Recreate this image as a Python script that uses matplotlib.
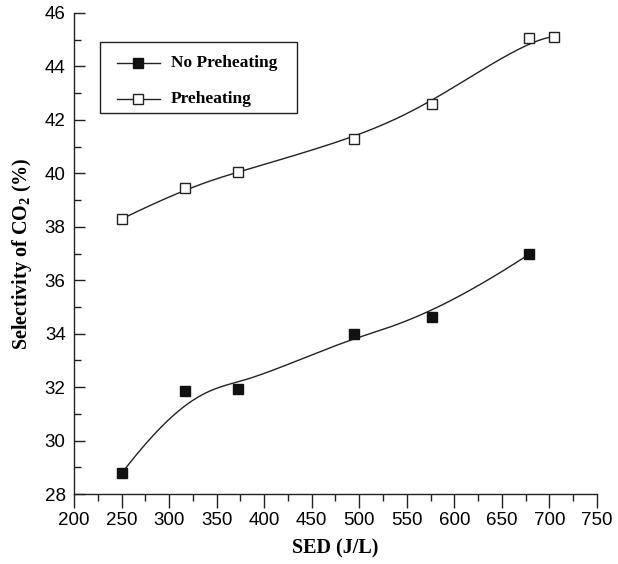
import numpy as np
import matplotlib
matplotlib.use('Agg')
import matplotlib.pyplot as plt
from matplotlib.ticker import MultipleLocator
from matplotlib.patches import Rectangle

# data
sed_no = [250, 317, 372, 494, 577, 679]
co2_no = [28.77, 31.87, 31.94, 33.98, 34.62, 36.98]
sed_pre = [250, 317, 372, 494, 577, 679, 705]
co2_pre = [38.29, 39.45, 40.05, 41.30, 42.60, 45.05, 45.11]
labels = ['No Preheating', 'Preheating']

plt.rcParams['font.family'] = ['Liberation Sans', 'DejaVu Sans']
plt.rcParams['mathtext.fontset'] = 'custom'
plt.rcParams['mathtext.rm'] = 'Liberation Serif:bold'
plt.rcParams['mathtext.bf'] = 'Liberation Serif:bold'


def bspline(xs, ys, num=300, k=3):
    # clamped B-spline with the points as control points (curve only hits the ends)
    P = np.column_stack([xs, ys]).astype(float)
    n = len(P)
    inner = np.linspace(0, 1, n - k + 1)[1:-1]
    t = np.concatenate([np.zeros(k + 1), inner, np.ones(k + 1)])
    u = np.linspace(0, 1, num)
    u[-1] = 1 - 1e-10
    N = np.zeros((num, len(t) - 1))
    for i in range(len(t) - 1):
        N[:, i] = (u >= t[i]) & (u < t[i + 1])
    for d in range(1, k + 1):
        Nn = np.zeros((num, len(t) - 1 - d))
        for i in range(len(t) - 1 - d):
            a = 0
            b = 0
            if t[i + d] > t[i]:
                a = (u - t[i]) / (t[i + d] - t[i]) * N[:, i]
            if t[i + d + 1] > t[i + 1]:
                b = (t[i + d + 1] - u) / (t[i + d + 1] - t[i + 1]) * N[:, i + 1]
            Nn[:, i] = a + b
        N = Nn
    C = N @ P
    return C[:, 0], C[:, 1]


fig = plt.figure(figsize=(6.18, 5.64), dpi=100)
ax = fig.add_axes([0.1197, 0.124, 0.8463, 0.853])

cx, cy = bspline(sed_no, co2_no)
ax.plot(cx, cy, color='#222222', lw=1.0, zorder=1)
cx, cy = bspline(sed_pre, co2_pre)
ax.plot(cx, cy, color='#222222', lw=1.0, zorder=1)

sty_no = dict(marker='s', ms=6.5, mfc='#111111', mec='#111111')
sty_pre = dict(marker='s', ms=6.5, mfc='white', mec='#222222', mew=1.0)
ax.plot(sed_no, co2_no, ls='none', zorder=3, **sty_no)
ax.plot(sed_pre, co2_pre, ls='none', zorder=3, **sty_pre)

# legend box drawn by hand (axes fractions)
ax.add_patch(Rectangle((0.0497, 0.7921), 0.3767, 0.1476, transform=ax.transAxes,
                       fc='white', ec='#222222', lw=1.0, zorder=4))
for ry, lab, sty in [(0.8960, labels[0], sty_no), (0.8212, labels[1], sty_pre)]:
    ax.plot([0.0822, 0.1644], [ry, ry], color='#222222', lw=1.0, transform=ax.transAxes, zorder=5)
    ax.plot([0.1233], [ry], transform=ax.transAxes, zorder=6, **sty)
    ax.text(0.1855, ry, lab, transform=ax.transAxes, va='center', ha='left', zorder=6,
            family='Liberation Serif', weight='bold', fontsize=12.5)

ax.set_xlim(200, 750)
ax.set_ylim(28, 46)
ax.xaxis.set_major_locator(MultipleLocator(50))
ax.xaxis.set_minor_locator(MultipleLocator(25))
ax.yaxis.set_major_locator(MultipleLocator(2))
ax.yaxis.set_minor_locator(MultipleLocator(1))

for s in ['top', 'right']:
    ax.spines[s].set_visible(False)
for s in ['left', 'bottom']:
    ax.spines[s].set_linewidth(1.0)
    ax.spines[s].set_color('#222222')

ax.tick_params(axis='x', which='major', direction='out', length=10, width=1.0, color='#222222')
ax.tick_params(axis='x', which='minor', direction='out', length=5, width=1.0, color='#222222')
ax.tick_params(axis='y', which='major', direction='in', length=8, width=1.0, color='#222222')
ax.tick_params(axis='y', which='minor', direction='in', length=5, width=1.0, color='#222222')
ax.tick_params(axis='both', labelsize=13.5)
ax.tick_params(axis='y', pad=6)
ax.tick_params(axis='x', pad=3)

ax.set_xlabel('SED (J/L)', family='Liberation Serif', weight='bold', fontsize=14.5, labelpad=7)
ax.set_ylabel(r'Selectivity of CO$\mathbf{_2}$ (%)', family='Liberation Serif', weight='bold',
              fontsize=14.5, labelpad=8)

fig.savefig('out.png', dpi=100)
